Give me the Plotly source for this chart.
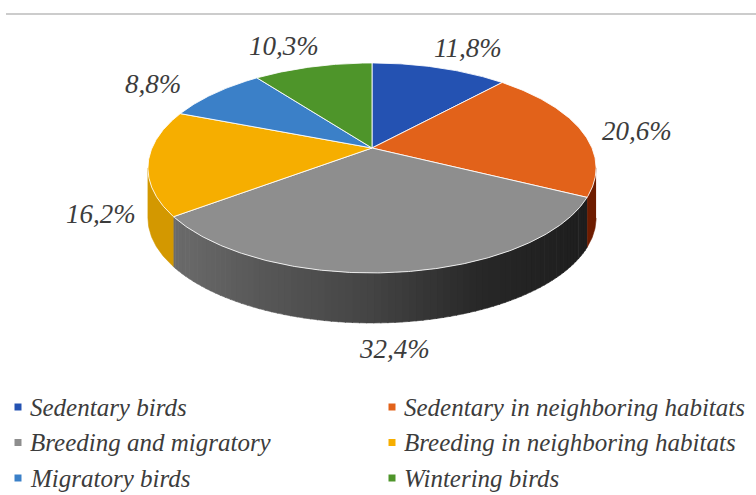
import numpy as np
import plotly.graph_objects as go

# ---------------- data ----------------
labels = ["Sedentary birds", "Sedentary in neighboring habitats",
          "Breeding and migratory", "Breeding in neighboring habitats",
          "Migratory birds", "Wintering birds"]
values = [11.8, 20.6, 32.4, 16.2, 8.8, 10.3]
value_text = ["11,8%", "20,6%", "32,4%", "16,2%", "8,8%", "10,3%"]

# ---------------- styles ----------------
colors = ["#2452b2", "#e2621a", "#8e8e8e", "#f6ae00", "#3b80c8", "#4e952a"]
side_colors = ["#1a3a80", "#6e1c00", None, "#d39800", "#2a5c90", "#386b1e"]
FONT = "Liberation Serif"
TEXT_COLOR = "#3c3c3c"

# projection of a tilted 3D disc (perspective) onto the page
CX, CY = 372.0, 148.0
A, B, E = 220.0, 101.2, 0.19
DEPTH = 50.0


def proj(theta_deg, r=1.0):
    t = np.radians(theta_deg)
    X = r * np.sin(t)
    Z = r * np.cos(t)
    d = 1 + E * Z
    return CX + A * X / d, CY - B * Z / d


def arc(a0, a1, n=None):
    if n is None:
        n = max(2, int(abs(a1 - a0) / 0.5) + 2)
    th = np.linspace(a0, a1, n)
    return proj(th)


def gray_shade(x):
    xs = [170, 260, 372, 480, 560, 600]
    vs = [0x6c, 0x58, 0x44, 0x28, 0x20, 0x1e]
    v = int(np.interp(x, xs, vs))
    return f"rgb({v},{v},{v})"


total = sum(values)
ends = np.cumsum(values) / total * 360.0
starts = np.concatenate([[0.0], ends[:-1]])

theta_r = 90 + np.degrees(np.arcsin(E))
theta_l = 360 - theta_r

fig = go.Figure()

# ---- sides (visible front rim) ----
for i in range(len(values)):
    a0 = max(starts[i], theta_r)
    a1 = min(ends[i], theta_l)
    if a0 >= a1:
        continue
    if side_colors[i] is None:
        step = 1.5
        edges = np.arange(a0, a1, step)
        edges = np.append(edges, a1)
        for s0, s1 in zip(edges[:-1], edges[1:]):
            tx, ty = arc(s0, s1 + 0.2, 4)
            px = np.concatenate([tx, tx[::-1]])
            py = np.concatenate([ty, (ty + DEPTH)[::-1]])
            c = gray_shade(float(np.mean(tx)))
            fig.add_trace(go.Scatter(x=px, y=py, fill="toself", fillcolor=c,
                                     mode="lines", line=dict(color=c, width=0.6),
                                     hoverinfo="skip", showlegend=False))
    else:
        tx, ty = arc(a0, a1)
        px = np.concatenate([tx, tx[::-1]])
        py = np.concatenate([ty, (ty + DEPTH)[::-1]])
        fig.add_trace(go.Scatter(x=px, y=py, fill="toself", fillcolor=side_colors[i],
                                 mode="lines", line=dict(color=side_colors[i], width=0.6),
                                 hoverinfo="skip", showlegend=False))

# ---- top faces ----
for i in range(len(values)):
    tx, ty = arc(starts[i], ends[i])
    px = np.concatenate([[CX], tx, [CX]])
    py = np.concatenate([[CY], ty, [CY]])
    fig.add_trace(go.Scatter(x=px, y=py, fill="toself", fillcolor=colors[i],
                             mode="lines", line=dict(color="rgba(255,255,255,0.85)", width=1),
                             name=labels[i], hoverinfo="name", showlegend=False))

# ---- data labels ----
annotations = []
for i in range(len(values)):
    mid = np.radians((starts[i] + ends[i]) / 2)
    lx = 370 + 272 * np.sin(mid)
    c = np.cos(mid)
    if c >= 0:
        ly = 150.6 - 110 * c
    else:
        ly = 193 + 157 * (-c)
    annotations.append(dict(x=lx, y=ly, text=value_text[i], showarrow=False,
                            xanchor="center", yanchor="middle",
                            font=dict(family=FONT, size=27, style="italic", color=TEXT_COLOR)))

# ---- legend (2 columns x 3 rows) ----
leg_x0 = [18, 392]
leg_y0, leg_dy = 407, 35.5
mx, my = [], []
for i in range(len(labels)):
    col, row = i % 2, i // 2
    x = leg_x0[col]
    y = leg_y0 + row * leg_dy
    mx.append(x)
    my.append(y)
    annotations.append(dict(x=x + 10, y=y, text=labels[i], showarrow=False,
                            xanchor="left", yanchor="middle",
                            font=dict(family=FONT, size=25, style="italic", color=TEXT_COLOR)))
fig.add_trace(go.Scatter(x=mx, y=my, mode="markers",
                         marker=dict(symbol="square", size=7, color=colors),
                         hoverinfo="skip", showlegend=False))

fig.update_layout(
    width=756, height=495, margin=dict(l=0, r=0, t=0, b=0),
    paper_bgcolor="white", plot_bgcolor="white",
    xaxis=dict(range=[0, 756], visible=False, fixedrange=True),
    yaxis=dict(range=[495, 0], visible=False, fixedrange=True),
    annotations=annotations,
    shapes=[dict(type="line", x0=6, x1=756, y0=14, y1=14,
                 line=dict(color="#cccccc", width=2))],
    showlegend=False,
)

fig.write_html("out.html")
